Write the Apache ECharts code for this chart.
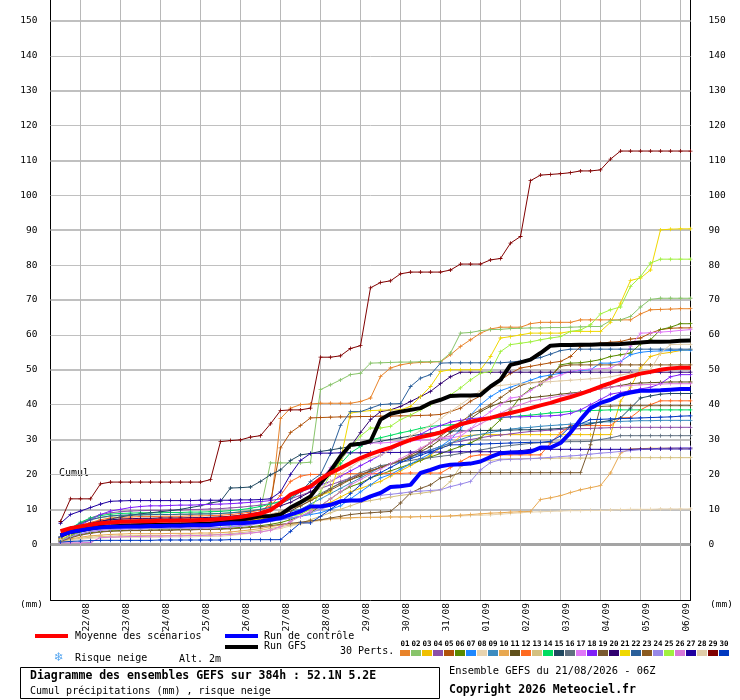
<!DOCTYPE html>
<html><head><meta charset="utf-8">
<script src="https://cdn.jsdelivr.net/npm/echarts@6/dist/echarts.min.js"></script>
<style>html,body{margin:0;padding:0;background:#fff}#c{width:740px;height:700px}</style>
</head><body><div id="c"></div>
<script>
// forecast steps (hours after 21/08 06Z)
const stepHours = [6,12,18,24,30,36,42,48,54,60,66,72,78,84,90,96,102,108,114,120,126,132,138,144,150,156,162,168,174,180,186,192,
198,204,210,216,222,228,234,240,246,252,258,264,270,276,282,288,294,300,306,312,318,324,330,336,342,348,354,360,366,372,378,384];
const dayLabels = ['22/08','23/08','24/08','25/08','26/08','27/08','28/08','29/08','30/08','31/08','01/09','02/09','03/09','04/09','05/09','06/09'];
const dayHours = [18,42,66,90,114,138,162,186,210,234,258,282,306,330,354,378];
const yTicks = [0,10,20,30,40,50,60,70,80,90,100,110,120,130,140,150];

const mean = [3.7,4.6,5.1,5.6,6.0,6.2,6.4,6.5, 6.6,6.6,6.7,6.7,6.8,6.8,6.9,7.0, 7.2,7.5,7.8,8.3,8.8,9.8,11.8,14.2,
 15.4,16.6,18.7,20.4,21.8,23.3,24.7,25.8, 26.8,27.7,28.8,29.9,30.7,31.3,32,33.3, 34.4,35.1,35.7,36.2,37.0,37.6,38.3,39,
 39.8,40.5,41.4,42.2,43.1,44.1,45.2,46.2, 47.3,48.1,48.9,49.4,50,50.4,50.6,50.6];
const control = [2.5,3.5,4.0,4.5,4.8,5.0,5.0,5.1, 5.1,5.2,5.2,5.3,5.3,5.4,5.4,5.5, 5.8,6.0,6.0,6.2,6.5,7.0,7.5,8.5,
 9.4,10.8,10.8,11.3,12.3,12.5,12.5,13.7, 14.7,16.4,16.6,17.0,20.4,21.3,22.3,22.8, 22.9,23.1,23.7,25,26.1,26.3,26.3,26.5,
 27.7,27.7,29,32,35.7,39,40.5,41.4, 42.8,43.5,44,44,44.1,44.3,44.5,44.5];
const gfs = [2.5,3.5,4,4.5,5,5,5.2,5.3, 5.4,5.5,5.5,5.6,5.6,5.7,5.8,5.9, 6.2,6.5,7,7.5,8,8,8.5,10.5,
 12,13.7,17.5,21,25.2,28.5,28.8,29.5, 35.7,37.4,38,38.5,39,40.5,41.4,42.5, 42.6,42.6,42.8,45.2,47.1,51.4,52.1,52.9,
 54.8,56.9,57.1,57.1,57.2,57.2,57.3,57.3, 57.4,57.6,57.8,58,58,58.1,58.3,58.4];

const p01 = [2,4,5.5,6.2,6.7,7,7.2,7.3, 7.4,7.4,7.5,7.5,7.5,7.6,7.6,7.7, 7.8,8,8.2,8.5,9,9.5,36,39,
 40,40.2,40.4,40.4,40.4,40.4,40.9,41.9, 48.1,50.5,51.4,51.9,52.1,52.2,52.3,54.3, 56.7,58.6,60.5,61.7,62.2,62.2,62.2,63.2,
 63.6,63.6,63.6,63.6,64.3,64.3,64.3,64.3, 64.3,64.3,66,67.2,67.3,67.4,67.5,67.5];
const p02 = [2,4.5,6,7,7.6,8,8.2,8.3, 8.4,8.4,8.5,8.5,8.5,8.6,8.6,8.7, 8.8,9,9.3,9.6,10,23.3,23.3,23.3,
 23.3,23.5,44.3,45.7,47.1,48.6,49,51.9, 52,52.1,52.2,52.2,52.3,52.3,52.4,54.8, 60.5,60.7,61.2,61.5,61.6,61.8,61.9,62,
 62,62.1,62.1,62.2,62.3,62.4,62.4,64.1, 64.3,65.3,68,70.2,70.5,70.5,70.5,70.5];
const p03 = [1.5,3,4,4.8,5.3,5.6,5.8,5.9, 5.9,6,6,6,6.1,6.1,6.2,6.2, 6.3,6.4,6.5,6.7,7,7.5,8,8.5,
 9,10,11,12,13.5,15,16,17, 18,19.5,21,22.5,24,25.5,27.6,28.5, 30.9,31.2,31.4,31.4,31.4,31.4,31.4,31.4,
 31.4,31.4,31.4,31.4,31.4,31.4,31.4,31.4, 41,45,50.5,53.8,54.6,55,55.5,55.7];
const p04 = [2,4,6,7.5,8.5,9,9.3,9.5, 9.6,9.7,9.7,9.8,9.8,9.9,10,10.1, 10.2,10.4,10.6,10.9,11.2,11.6,12,13,
 14,15,16,17,18,19,20,21, 22,23,24,25,26,27,28,29, 29.5,30,30.5,31,31.3,31.6,32,32.3,
 32.5,32.7,32.9,33,33.1,33.2,33.3,33.4, 33.5,33.5,33.5,33.5,33.5,33.5,33.5,33.5];
const p05 = [2,3.8,5,5.8,6.3,6.6,6.8,6.9, 7,7,7,7.1,7.1,7.2,7.2,7.3, 7.4,7.6,7.8,8.2,8.8,12,27.6,32,
 34,36.2,36.3,36.4,36.5,36.5,36.6,36.6, 36.7,36.7,36.8,36.8,36.9,37,37.2,38, 39,41,42.5,45,47,49,50.5,51,
 51.5,52,52.4,53.8,56.7,57.2,57.6,57.9, 58.1,58.8,59.1,60.5,61.5,61.9,62,62];
const p06 = [1,2,2.8,3.3,3.6,3.8,3.9,4, 4,4,4.1,4.1,4.2,4.2,4.3,4.3, 4.4,4.6,4.8,5,5.3,5.7,6.2,7,
 8,9,11,13,15,16.5,17.5,19, 20,21,22,23,24,25,26,27, 28,29,30.5,33,35.7,38.5,42.3,44.5,
 45.7,48,51.4,51.9,52,52.4,52.9,53.8, 54.3,54.8,57.4,58.6,61.5,62.2,63.2,63.2];
const p07 = [1,2.5,3.5,4.2,4.6,4.8,4.9,5, 5,5,5,5.1,5.1,5.2,5.2,5.3, 5.4,5.5,5.7,6,6.3,6.7,7,7.5,
 8,8.5,9,10,11,13,15,17, 19,20,21.5,23,24.5,26,28,30, 33,37,40,42.3,44,45,46,47,
 48,48.5,49,49.5,49.8,50,51.9,51.9, 52.4,54.3,55,55.3,55.4,55.5,55.6,55.6];
const p08 = [0.5,1,1.4,1.7,1.8,1.9,2,2, 2,2,2,2.1,2.1,2.1,2.2,2.2, 2.3,2.5,2.8,3.1,3.5,4,4.5,5.2,
 5.8,6.3,6.8,7.1,7.3,7.5,7.6,7.7, 7.8,7.8,7.9,7.9,7.9,8,8,8, 8.1,8.2,8.3,8.4,8.6,8.8,9,9.2,
 9.3,9.4,9.5,9.6,9.6,9.7,9.7,9.8, 9.9,10,10,10,10.1,10.1,10.1,10.1];
const p09 = [1.5,3.2,4.5,5.3,5.8,6.1,6.3,6.4, 6.4,6.5,6.5,6.5,6.6,6.6,6.7,6.7, 6.8,7,7.2,7.5,8,8.5,9,9.5,
 10,11.5,13,14.5,16,17.5,19,20.5, 22,23,24,25,26,27,28,29, 30,31,31.5,32,32.5,33,33.3,33.5,
 33.8,34,34.2,34.4,34.6,34.8,35,35.1, 35.2,35.3,35.4,35.4,35.5,35.5,35.5,35.5];
const p10 = [0.8,1.5,2,2.4,2.6,2.8,2.9,3, 3,3,3,3.1,3.1,3.1,3.2,3.2, 3.3,3.5,3.8,4.1,4.5,5,5.5,5.8,
 6,6.5,7,7.3,7.5,7.6,7.7,7.7, 7.7,7.8,7.8,7.8,7.9,7.9,8,8.1, 8.3,8.5,8.7,8.9,9,9.2,9.3,9.4,
 12.8,13.3,13.9,14.8,15.6,16.2,16.8,20.4, 26.1,27.3,27.4,27.5,27.5,27.6,27.6,27.6];
const p11 = [1,2.5,3.6,4.4,4.9,5.2,5.3,5.4, 5.4,5.5,5.5,5.5,5.6,5.6,5.7,5.7, 5.8,6,6.3,6.7,7.2,7.8,8.5,9.5,
 11,12.5,14,16,17.5,18.5,19.5,21, 22,23,24,25,26.5,28,30,32, 34,36,38,39.5,40.5,41,41.5,42,
 42.3,42.6,43,43.3,43.6,44,44.5,45, 45.5,46,46.2,46.3,46.4,46.5,46.5,46.5];
const p12 = [1.5,3.5,5,6.2,7,7.5,7.7,7.8, 7.9,7.9,8,8,8,8.1,8.1,8.2, 8.3,8.5,8.8,9.2,9.8,11,14,18,
 19.5,20,20,20.1,20.1,20.2,20.2,20.2, 20.3,20.3,20.3,20.4,20.4,20.4,20.4,22, 23.7,25.2,25.6,25.6,25.6,25.6,25.6,25.6,
 25.6,29,31.9,34,34,34,34,34, 36.2,36.3,38.5,40,41.1,41.1,41.1,41.1];
const p13 = [0.8,1.3,1.7,2,2.2,2.3,2.4,2.4, 2.5,2.5,2.5,2.5,2.6,2.6,2.6,2.7, 2.8,3,3.3,3.6,4,4.5,5,5.5,
 6,7,8,9,10,11,12,12.5, 13,13.5,14,14.3,14.6,15,15.6,18, 22.3,23,23.7,24,24.4,24.5,24.5,24.6,
 24.6,24.6,24.7,24.7,24.7,24.7,24.8,24.8, 24.8,24.8,24.8,24.8,24.8,24.8,24.8,24.8];
const p14 = [2,4.5,6.3,7.5,8.2,8.6,8.8,8.9, 9,9,9,9.1,9.1,9.2,9.2,9.3, 9.4,9.6,9.9,10.3,10.8,11.5,12.3,13.5,
 15,17,19,21,23,26.2,28,29.9, 30.5,31.2,31.9,32.5,33.2,33.8,34,34.2, 34.5,35,35.5,36,36.2,36.5,36.8,37,
 37.3,37.6,37.8,38.1,38.2,38.3,38.4,38.5, 38.5,38.5,38.5,38.5,38.5,38.5,38.5,38.5];
const p15 = [2,3.5,4.5,5.5,6.5,7.2,7.8,8.3, 8.7,9,9.3,9.6,10,10.5,11,11.8, 12.3,16.1,16.2,16.4,18,19.9,21.3,24,
 25.6,26,26.6,27,27.5,28,28.5,29, 29.5,30,30.5,31,31.5,31.8,32.3,32.4, 32.5,32.5,32.6,32.6,32.7,32.7,32.8,32.8,
 32.9,33,33.2,33.5,34,34.5,35,35.5, 36.2,39,41.9,42.5,43,43.2,43.2,43.2];
const p16 = [1.2,2.8,4,4.8,5.3,5.6,5.8,5.9, 5.9,6,6,6,6.1,6.1,6.2,6.2, 6.3,6.5,6.8,7.2,7.7,8.3,9,10,
 11.5,13,14.5,16,17.5,19,20.5,21.5, 22.5,23,23.5,24,24.5,24.8,25.2,25.5, 26,26.5,27,27.5,28,28.3,28.6,28.9,
 29.1,29.2,29.3,29.4,29.4,29.5,30,30.5, 31.1,31.1,31.1,31.1,31.1,31.1,31.1,31.1];
const p17 = [1,2.2,3,3.6,4,4.2,4.3,4.4, 4.4,4.5,4.5,4.5,4.6,4.6,4.7,4.7, 4.8,5,5.3,5.7,6.2,7,8,10,
 12,14,18.5,22,25,28,28.5,29, 29,29.2,29.5,29.6,29.8,30,30.2,30.4, 31,33,36,38,40,41.9,42.3,44,
 46,47.5,48.5,49.5,50,50.2,50.3,50.5, 52,56.7,60.5,60.6,60.8,61,61.3,61.5];
const p18 = [2,3.5,5.5,7,8.5,9.5,10,10.5, 10.8,11,11,11.1,11.2,11.2,11.3,11.4, 11.5,11.6,11.8,12,12.2,12.5,13,14,
 15,16,17,18,19.5,21,22.5,24, 25.5,27,28.5,30,31.5,33,34,35, 35.5,36,36.2,36.3,36.4,36.5,36.5,36.6,
 36.7,36.8,37,37.5,38.5,40,41.5,43, 43.5,44,44.5,45,46,48,48.6,48.6];
const p19 = [0.8,1.8,2.6,3.1,3.5,3.7,3.8,3.9, 3.9,4,4,4,4.1,4.1,4.2,4.2, 4.3,4.4,4.6,4.8,5,5.3,5.7,6,
 6.3,6.7,7,7.5,8,8.5,8.8,9, 9.2,9.4,11.8,14.7,16,17,19,19.5, 20.5,20.5,20.5,20.5,20.5,20.5,20.5,20.5,
 20.5,20.5,20.5,20.5,20.5,28.5,39.5,39.6, 39.7,39.7,39.7,39.7,39.7,39.7,39.7,39.7];
const p20 = [1.5,3.5,5,6,6.6,7,7.2,7.3, 7.4,7.4,7.5,7.5,7.5,7.6,7.6,7.7, 7.8,8,8.3,8.7,9.2,10,11,12,
 13.5,15,17,20,24,28,32,35.7, 38,38.5,39.5,40.9,42.3,43.8,46,48, 49.3,49.3,49.3,49.3,49.3,49.3,49.3,49.3,
 49.3,49.3,49.3,49.3,49.3,49.3,49.3,49.3, 49.3,49.3,49.3,49.3,49.3,49.3,49.3,49.3];
const p21 = [1.5,3,4,4.7,5.1,5.3,5.4,5.5, 5.5,5.5,5.6,5.6,5.6,5.7,5.7,5.8, 5.9,6.1,6.4,6.8,7.3,8,9,10.5,
 12,13,14,15,24.2,37.6,38,38.3, 38.4,38.5,38.5,39.5,42.3,45.2,49.5,50, 50,50,50,53.8,59.1,59.5,60,60.5,
 60.5,60.5,60.5,61,61,61,61,63.6, 69.1,75.6,76.3,78.6,90.1,90.3,90.4,90.4];
const p22 = [2,4.5,6,7,7.7,8.1,8.3,8.4, 8.4,8.5,8.5,8.5,8.6,8.6,8.7,8.7, 8.8,9,9.2,9.5,10,10.5,11.5,13,
 15,18,20,26,34,38,38,39, 40,40.2,40.3,45.2,47.6,48.6,51.9,52, 52,52,52,52,52,52.2,52.5,53,
 53.5,54.5,55.5,55.9,55.9,55.9,55.9,55.9, 55.9,55.9,55.9,55.9,55.9,55.9,55.9,55.9];
const p23 = [1.2,2.6,3.7,4.4,4.9,5.2,5.4,5.5, 5.5,5.6,5.6,5.6,5.7,5.7,5.8,5.8, 5.9,6.1,6.5,7,7.8,8.5,9.3,10.2,
 11,12.5,14,15.5,17,18.5,20,21, 22,23,24,25.5,27,29,31,33, 35,37,38.5,40,42,44,45.5,46.3,
 46.5,48,51,51.4,51.4,51.4,51.4,51.4, 51.4,51.4,51.4,51.4,51.4,51.4,51.4,51.4];
const p24 = [1,2.2,3,3.6,4,4.2,4.3,4.4, 4.4,4.5,4.5,4.5,4.6,4.6,4.6,4.7, 4.8,5,5.2,5.5,6,6.5,7,7.5,
 8,9,10,11,12,12.5,13,13.5, 14,14.3,14.6,15,15.2,15.4,15.6,16.5, 17.2,18,21.3,23.4,24.2,24.3,24.4,24.5,
 24.7,24.9,25.1,25.3,25.5,25.8,26.1,26.3, 26.6,26.8,27.1,27.3,27.5,27.6,27.7,27.7];
const p25 = [1.2,2.6,3.6,4.3,4.7,4.9,5,5, 5,5,5.1,5.1,5.1,5.2,5.2,5.3, 5.4,5.6,5.8,6.1,6.5,7,7.5,8,
 8.5,10,15,20,24,28,31,33.3, 33.3,33.8,35.7,37,38.5,40,41.4,42.8, 44.8,47.1,49,49.5,55.2,57.2,57.6,58,
 58.6,59.1,59.5,61,61.4,62.9,66,67.2, 68,73.9,76.7,80.6,81.7,81.7,81.7,81.7];
const p26 = [0.4,0.4,0.4,0.5,1.9,2,2.1,2.2, 2.2,2.3,2.3,2.4,2.4,2.5,2.5,2.6, 2.7,2.8,3,3.2,3.5,4,5,6.5,
 8,9.5,11,13,15,17,18.5,20, 21.5,23,24.5,26,27.5,29,30.4,31, 32,33,34.5,36,37.5,39,40,41,
 41.5,42,42.5,43,43.5,44,44.5,45, 45.3,45.5,45.7,45.8,45.9,46,46,46];
const p27 = [6,8.5,9.5,10.5,11.5,12.3,12.4,12.5, 12.5,12.5,12.5,12.5,12.5,12.5,12.6,12.6, 12.6,12.6,12.7,12.7,12.8,13,15,20,
 24,26,26.1,26.1,26.2,26.2,26.2,26.3, 26.3,26.3,26.3,26.4,26.4,26.4,26.4,26.4, 26.5,26.5,26.5,26.5,26.5,26.6,26.8,27.2,
 27.2,27.2,27.2,27.2,27.2,27.2,27.2,27.2, 27.2,27.2,27.3,27.3,27.3,27.3,27.3,27.3];
const p28 = [1.4,3,4.3,5.2,5.8,6.1,6.3,6.4, 6.4,6.5,6.5,6.5,6.6,6.6,6.7,6.7, 6.8,7,7.2,7.5,8,8.6,9.3,10.3,
 12,14,16,18,20,22,24,24.8, 25.5,27,29,31,32.5,34,36,38, 40,42,44,45.2,45.5,45.8,46,46.2,
 46.4,46.6,46.8,47,47.2,47.4,47.6,48, 48.5,49,49.5,50,54.8,57.2,57.3,57.3];
const p29 = [6.5,13,13,13,17.3,17.8,17.8,17.8, 17.8,17.8,17.8,17.8,17.8,17.8,17.8,18.5, 29.4,29.7,29.9,30.7,31.1,34.5,38.3,38.5,
 38.5,39,53.6,53.6,54,56.1,56.9,73.5, 75,75.5,77.5,78,78,78,78,78.6, 80.3,80.3,80.3,81.5,81.9,86.3,88.2,104.2,
 105.8,106,106.2,106.5,107,107,107.3,110.4, 112.7,112.7,112.7,112.7,112.7,112.7,112.7,112.7];
const p30 = [0.6,0.8,0.9,1,1.1,1.1,1.1,1.1, 1.1,1.1,1.2,1.2,1.2,1.2,1.2,1.2, 1.2,1.3,1.3,1.3,1.3,1.3,1.3,3.7,
 6.1,6.1,8,10,12,14.5,17,19, 20.5,22,23.5,24.5,25.5,26.5,27.5,28.5, 28.5,28.6,28.7,28.8,28.9,29,29.1,29.2,
 29.2,29.5,31,33.8,34.5,35.7,35.8,35.9, 36,36.1,36.2,36.3,36.4,36.5,36.7,36.8];

const perts = [p01,p02,p03,p04,p05,p06,p07,p08,p09,p10,p11,p12,p13,p14,p15,p16,p17,p18,p19,p20,p21,p22,p23,p24,p25,p26,p27,p28,p29,p30];
const pertColors = ['#e8832a','#88c46a','#f0c000','#8c4fa8','#b0520a','#5a8a00','#1e88ff','#e8d4b0','#3c8cc0','#e8a850',
 '#60501a','#ff6a20','#d4c080','#00dd60','#204860','#607080','#e078f8','#8020f8','#7a5a30','#300070',
 '#f0d800','#2a5f9a','#8a5a20','#9888e8','#a0f040','#d878d8','#2000a0','#e0cca8','#800000','#0038c0'];

const X_MIN = 0, X_MAX = 384, Y_MIN = -16, Y_MAX = 156;
const MONO = '"DejaVu Sans Mono", "Liberation Mono", monospace';
const pts = arr => arr.map((v, i) => [stepHours[i], v]);

const gridLines = [];
yTicks.forEach(v => {
  if (v === 0) return;
  gridLines.push([{coord: [X_MIN, v], lineStyle: {color: '#c0c0c0', width: (v / 10) % 2 === 1 ? 2 : 1, type: 'solid'}}, {coord: [X_MAX, v]}]);
});
gridLines.push([{coord: [X_MIN, 0], lineStyle: {color: '#a4a4a4', width: 3, type: 'solid'}}, {coord: [X_MAX, 0]}]);

const series = [{
  type: 'line', data: [[X_MIN, null]], silent: true, z: 1, showSymbol: false,
  markLine: {silent: true, symbol: 'none', z: 1, animation: false, label: {show: false}, data: gridLines}
}];
// vertical day gridlines (axis furniture), drawn through the axes' scales
dayHours.forEach(h => {
  series.push({type: 'line', data: [[h, Y_MIN], [h, Y_MAX]], silent: true, z: 1, showSymbol: false, clip: false,
    lineStyle: {color: '#b8b8b8', width: 1}});
});
perts.forEach((arr, k) => {
  series.push({
    type: 'line', data: pts(arr), z: 2, silent: true,
    symbol: 'path://M2,0H3V2H5V3H3V5H2V3H0V2H2Z', symbolSize: 4, showSymbol: true,
    lineStyle: {color: pertColors[k], width: 1}, itemStyle: {color: pertColors[k]}
  });
});
series.push({type: 'line', data: pts(gfs), z: 3, silent: true, showSymbol: false, lineStyle: {color: '#000000', width: 4}});
series.push({type: 'line', data: pts(control), z: 4, silent: true, showSymbol: false, lineStyle: {color: '#0000ff', width: 4}});
series.push({type: 'line', data: pts(mean), z: 5, silent: true, showSymbol: false, lineStyle: {color: '#ff0000', width: 4}});

const labelPos = dayHours.map(h => h + 3.5);

const graphic = [
  {type: 'text', left: 20, top: 600, style: {text: '(mm)', font: '9.5px ' + MONO, fill: '#000'}},
  {type: 'text', left: 710, top: 600, style: {text: '(mm)', font: '9.5px ' + MONO, fill: '#000'}},
  {type: 'text', left: 59, top: 468, style: {text: 'Cumul', font: '10px ' + MONO, fill: '#000'}},
  {type: 'rect', shape: {x: 35, y: 634, width: 33, height: 4}, style: {fill: '#ff0000'}},
  {type: 'text', left: 75, top: 631, style: {text: 'Moyenne des scénarios', font: '10px ' + MONO, fill: '#000'}},
  {type: 'rect', shape: {x: 225, y: 634, width: 33, height: 4}, style: {fill: '#0000ff'}},
  {type: 'text', left: 264, top: 631, style: {text: 'Run de contrôle', font: '10px ' + MONO, fill: '#000'}},
  {type: 'rect', shape: {x: 225, y: 645, width: 33, height: 4}, style: {fill: '#000000'}},
  {type: 'text', left: 264, top: 641, style: {text: 'Run GFS', font: '10px ' + MONO, fill: '#000'}},
  {type: 'text', left: 340, top: 646, style: {text: '30 Perts.', font: '10px ' + MONO, fill: '#000'}},
  {type: 'text', left: 54, top: 652, style: {text: '❄', font: '12px "DejaVu Sans"', fill: '#5aa8f0'}},
  {type: 'text', left: 75, top: 653, style: {text: 'Risque neige', font: '10px ' + MONO, fill: '#000'}},
  {type: 'text', left: 179, top: 654, style: {text: 'Alt. 2m', font: '10px ' + MONO, fill: '#000'}},
  {type: 'rect', shape: {x: 20.5, y: 667.5, width: 419, height: 31}, style: {fill: 'none', stroke: '#000', lineWidth: 1}},
  {type: 'text', left: 30, top: 670, style: {text: 'Diagramme des ensembles GEFS sur 384h : 52.1N 5.2E', font: 'bold 11.5px ' + MONO, fill: '#000'}},
  {type: 'text', left: 30, top: 686, style: {text: 'Cumul précipitations (mm) , risque neige', font: '10px ' + MONO, fill: '#000'}},
  {type: 'text', left: 449, top: 666, style: {text: 'Ensemble GEFS du 21/08/2026 - 06Z', font: '10.4px ' + MONO, fill: '#000'}},
  {type: 'text', left: 449, top: 684, style: {text: 'Copyright 2026 Meteociel.fr', font: 'bold 11.5px ' + MONO, fill: '#000'}}
];
pertColors.forEach((c, k) => {
  const x = 400 + k * 11;
  graphic.push({type: 'rect', shape: {x: x, y: 650, width: 10, height: 6}, style: {fill: c}});
  graphic.push({type: 'text', x: x + 5, y: 644, style: {text: String(k + 1).padStart(2, '0'), font: 'bold 7.5px ' + MONO, fill: '#000', align: 'center', verticalAlign: 'middle'}});
});

const chart = echarts.init(document.getElementById('c'), null, {renderer: 'canvas'});
chart.setOption({
  animation: false,
  backgroundColor: '#ffffff',
  grid: {left: 50.5, right: 49.5, top: 0, bottom: 100, containLabel: false},
  xAxis: {
    type: 'value', min: X_MIN, max: X_MAX,
    axisLine: {show: true, onZero: false, lineStyle: {color: '#000', width: 1}},
    axisTick: {show: false}, splitLine: {show: false},
    axisLabel: {
      customValues: labelPos, rotate: 90, margin: 3, color: '#000', fontFamily: MONO, fontSize: 9.5,
      formatter: v => dayLabels[Math.round((v - 21.5) / 24)] || ''
    }
  },
  yAxis: [
    {type: 'value', min: Y_MIN, max: Y_MAX, position: 'left',
     axisLine: {show: true, onZero: false, lineStyle: {color: '#000', width: 1}},
     axisTick: {show: false}, splitLine: {show: false},
     axisLabel: {customValues: yTicks, margin: 13, color: '#000', fontFamily: MONO, fontSize: 9.5}},
    {type: 'value', min: Y_MIN, max: Y_MAX, position: 'right',
     axisLine: {show: true, onZero: false, lineStyle: {color: '#000', width: 1}},
     axisTick: {show: false}, splitLine: {show: false},
     axisLabel: {customValues: yTicks, margin: 18, align: 'left', color: '#000', fontFamily: MONO, fontSize: 9.5}}
  ],
  series: series,
  graphic: graphic
});
</script>
</body></html>
